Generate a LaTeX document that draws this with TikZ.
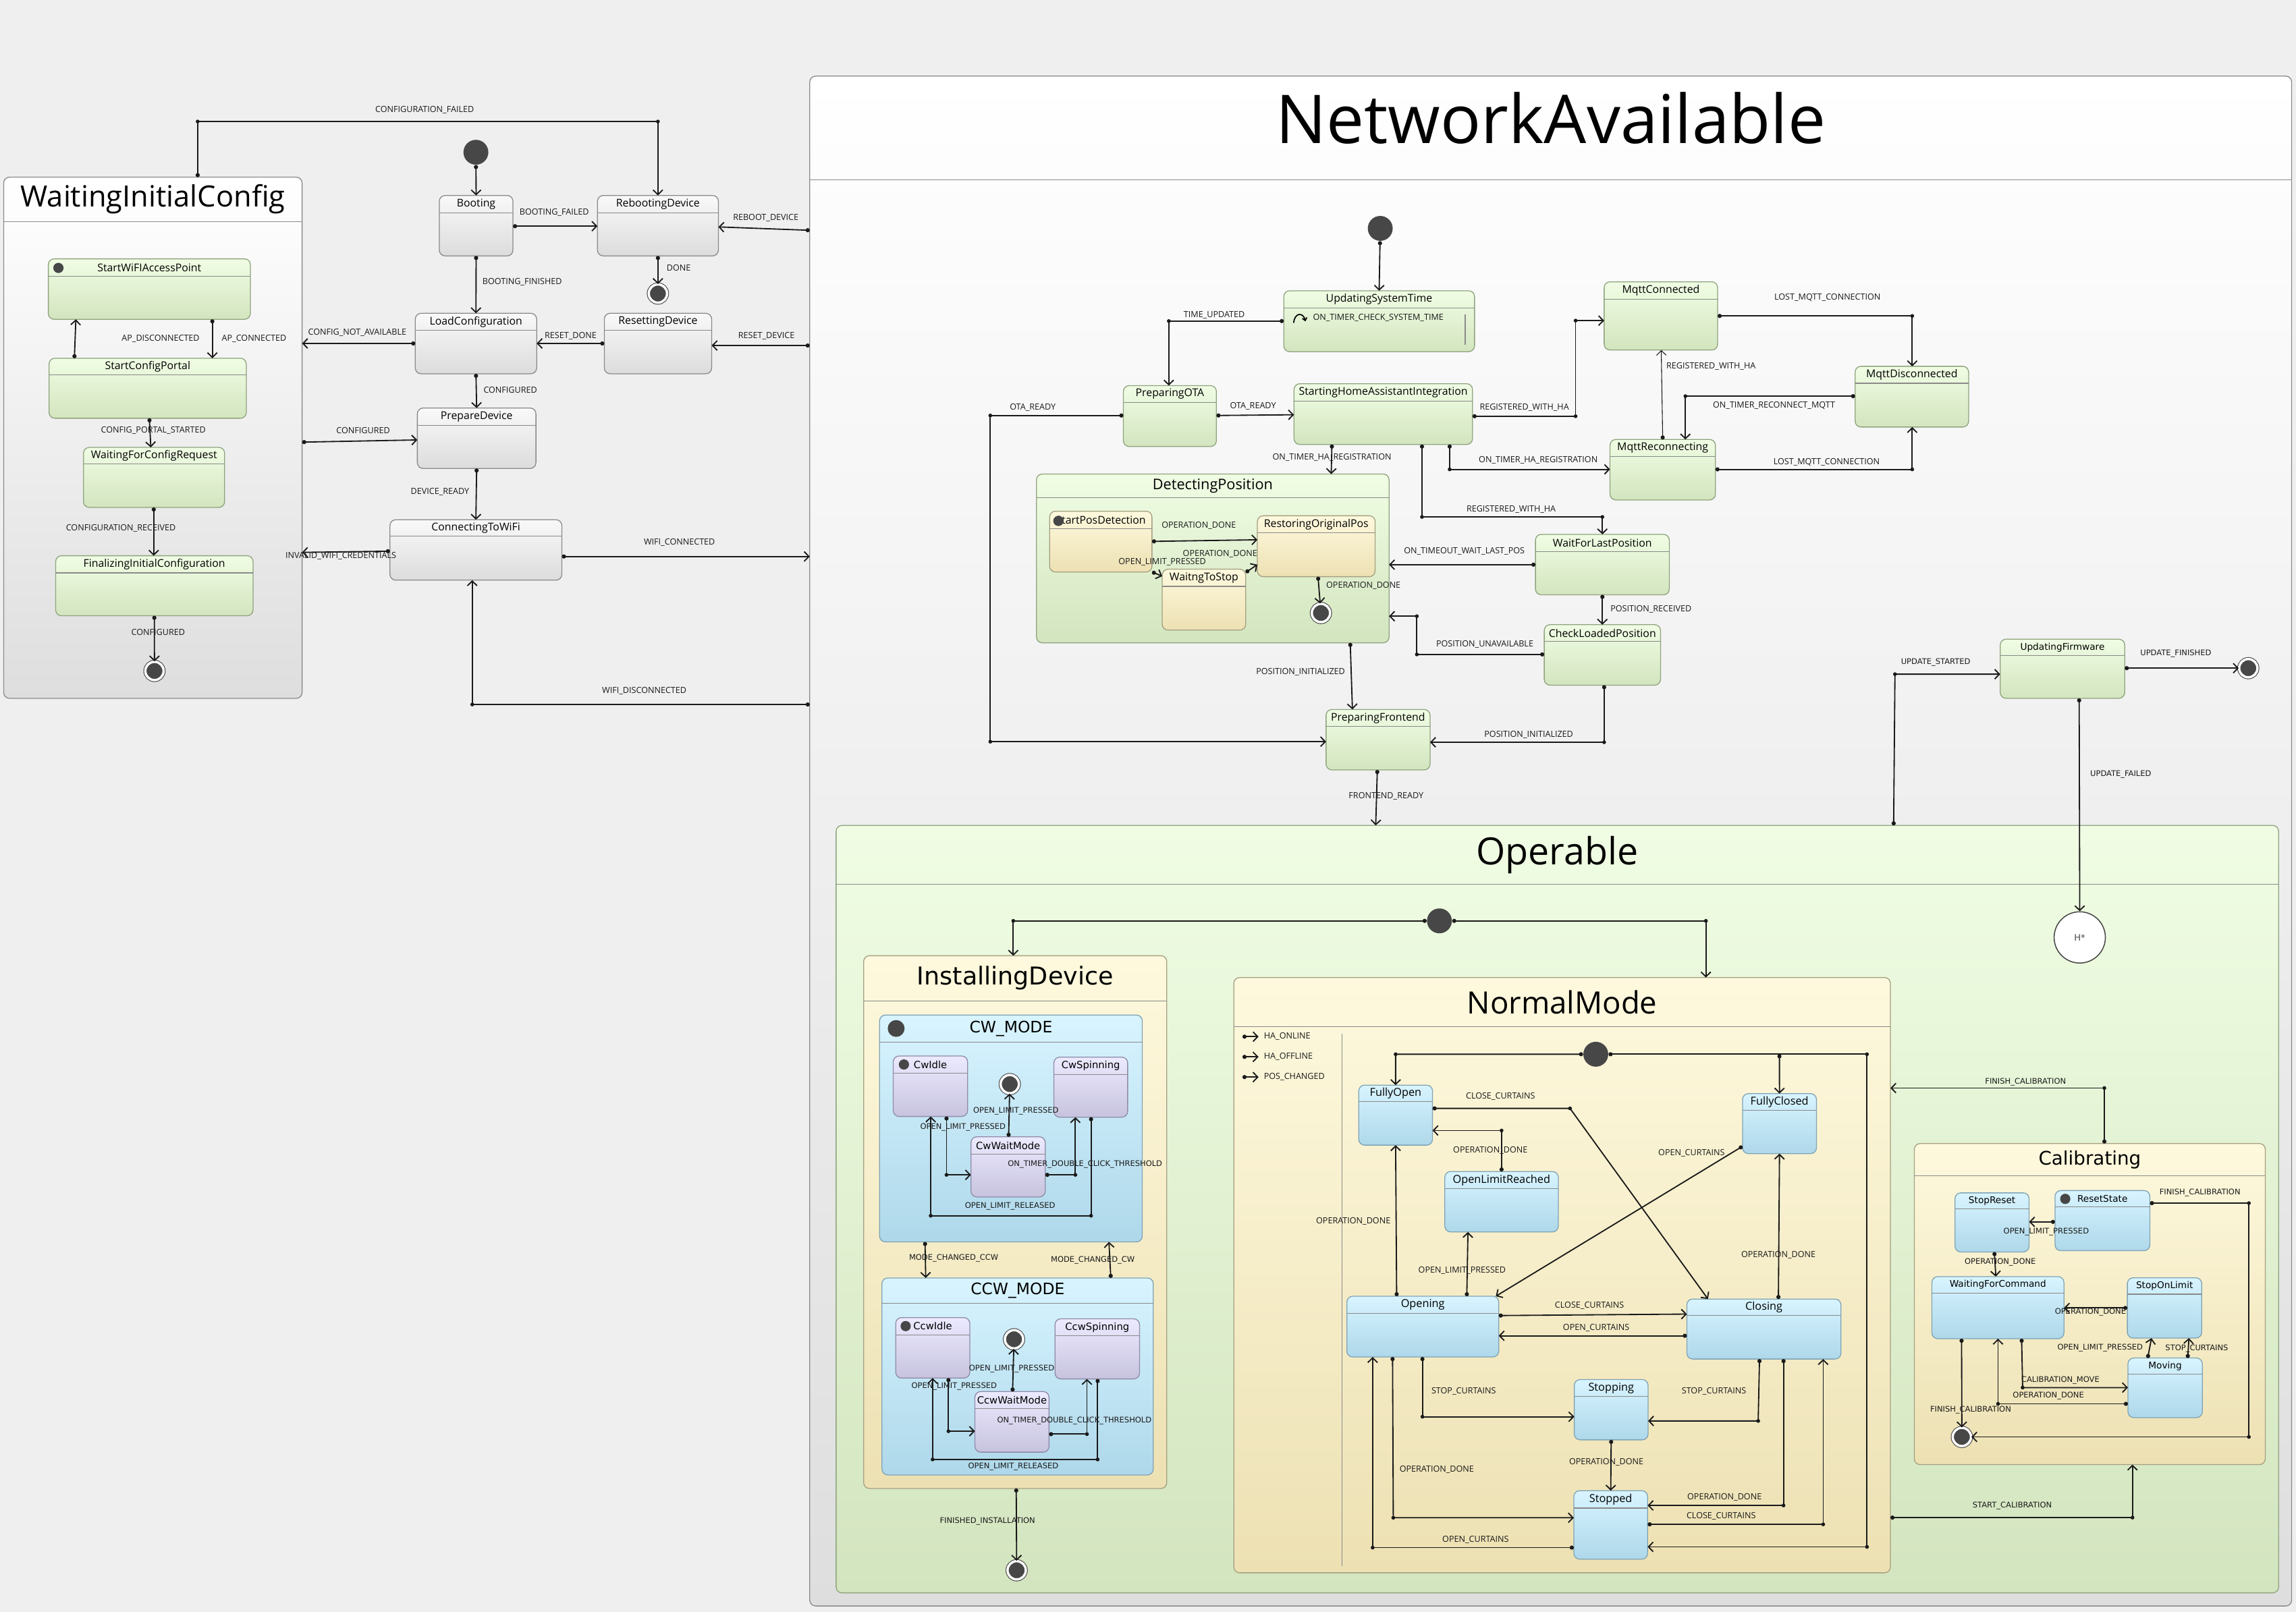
\documentclass[tikz,border=0pt]{standalone}
\usepackage{fontspec}
\setmainfont{Open Sans}
\newfontfamily\larg{DejaVu Sans}
\usetikzlibrary{arrows.meta,fit}

\definecolor{fond}{HTML}{EFEFEF}
\definecolor{noir}{HTML}{474747}
\definecolor{fil}{HTML}{1A1A1A}
\definecolor{bord}{HTML}{8A8A8A}
\definecolor{gris0}{HTML}{F9F9F9}
\definecolor{gris1}{HTML}{DCDCDC}
\definecolor{cadre1}{HTML}{DEDEDE}
\definecolor{vert0}{HTML}{F0FDE4}
\definecolor{vert1}{HTML}{D3E5BF}
\definecolor{bordvert}{HTML}{8FA37E}
\definecolor{beige0}{HTML}{FEF9DE}
\definecolor{beige1}{HTML}{EDE1B3}
\definecolor{bordbeige}{HTML}{A59F80}
\definecolor{bleu0}{HTML}{D8F4FF}
\definecolor{bleu1}{HTML}{AED8EA}
\definecolor{bordbleu}{HTML}{7FA3B5}
\definecolor{lilas0}{HTML}{ECEAFF}
\definecolor{lilas1}{HTML}{C7C3DE}
\definecolor{bordlilas}{HTML}{8F8BA8}

\tikzset{
  boite/.style={draw=bord, line width=0.6pt, rounded corners=4pt, inner sep=0pt, outer sep=0pt},
  cadre/.style={boite, top color=white, bottom color=cadre1},
  gris/.style={boite, top color=gris0, bottom color=gris1},
  vert/.style={boite, draw=bordvert, top color=vert0, bottom color=vert1},
  beige/.style={boite, draw=bordbeige, top color=beige0, bottom color=beige1},
  bleu/.style={boite, draw=bordbleu, top color=bleu0, bottom color=bleu1},
  lilas/.style={boite, draw=bordlilas, top color=lilas0, bottom color=lilas1},
  entete/.style={draw=bord, line width=0.5pt},
  tt/.style={font=\fontsize{#1}{#1}\selectfont, inner sep=0pt},
  ttl/.style={font=\larg\fontsize{#1}{#1}\selectfont, inner sep=0pt},
  tr/.style={draw=fil, line width=0.85pt, {Circle[length=2.8pt]}-{Straight Barb[length=3.2pt,width=6.6pt]}},
  coin/.style={circle, fill=fil, inner sep=0pt, minimum size=2.6pt},
  lbl/.style={font=\fontsize{5.8}{6}\selectfont, inner sep=0.5pt, text=fil},
  lbll/.style={font=\larg\fontsize{5.3}{6}\selectfont, inner sep=0.5pt, text=fil},
  init/.style={circle, fill=noir, inner sep=0pt, minimum size=17pt},
  marque/.style={circle, fill=noir, inner sep=0pt, minimum size=7pt},
  fin/.style={circle, fill=noir, draw=noir, double=white, double distance=1.6pt, line width=0.5pt, inner sep=0pt, minimum size=12.5pt},
  hist/.style={circle, draw=noir, fill=white, line width=0.7pt, minimum size=35pt, inner sep=0pt, font=\larg\fontsize{6}{6}\selectfont, text=noir},
}

% état : style, style du titre, nom, coin haut gauche, coin bas droit, hauteur d'en-tête, titre
\newcommand{\etat}[7]{%
  \node[#1, fit={(#4) (#5)}] (#3) {};
  \draw[entete] ([yshift={-#6*1pt}]#3.north west) -- ([yshift={-#6*1pt}]#3.north east);
  \node[#2] (#3-t) at ([yshift={-#6*0.5pt}]#3.north) {#7};
}

\begin{document}
\begin{tikzpicture}[x=1pt,y=-1pt]
    % Fond
    \fill[fond] (0,0) rectangle (1568,1101);
    \useasboundingbox (0,0) rectangle (1568,1101);

    % Cadres
    \etat{cadre}{tt=46, yshift=7pt}{na}{553,52}{1565,1097}{71}{NetworkAvailable}
    \etat{cadre}{tt=20}{wic}{2.5,121}{206.3,477}{30.4}{WaitingInitialConfig}

    % Configuration initiale
    \etat{vert}{tt=7.3}{startap}{33,176.8}{171,218.1}{12}{StartWiFIAccessPoint}
    \etat{vert}{tt=7.3}{portal}{33.5,244.7}{168.2,285.7}{11.4}{StartConfigPortal}
    \etat{vert}{tt=7.3}{waitreq}{57,305.6}{153.4,346.6}{11.4}{WaitingForConfigRequest}
    \etat{vert}{tt=7.3}{finalize}{38,379.6}{172.8,420.6}{11.7}{FinalizingInitialConfiguration}
    \node[marque] (startap-i) at (39.9,183) {};
    \node[fin] (f2) at (105.5,458.3) {};

    % Démarrage
    \node[init] (i0) at (325,104) {};
    \etat{gris}{tt=7.3}{boot}{300,133.5}{350.3,174.8}{11.8}{Booting}
    \etat{gris}{tt=7.3}{reboot}{408,133.5}{490.6,174.8}{11.8}{RebootingDevice}
    \node[fin] (f1) at (449.3,200.5) {};
    \etat{gris}{tt=7.3}{loadcfg}{283.6,214}{366.5,255.3}{11.7}{LoadConfiguration}
    \etat{gris}{tt=7.3}{reset}{412.7,214}{486,255.3}{11.7}{ResettingDevice}
    \etat{gris}{tt=7.3}{prep}{285,278.7}{366,320}{11.8}{PrepareDevice}
    \etat{gris}{tt=7.3}{wifi}{266.3,355}{383.7,396.3}{11.2}{ConnectingToWiFi}

    % Réseau disponible
    \node[init] (i1) at (942.6,156) {};
    \etat{vert}{tt=7.3}{ust}{876.7,198.6}{1007,240.2}{11.7}{UpdatingSystemTime}
    \etat{vert}{tt=7.3}{ota}{767.2,263.4}{830.7,305}{11.6}{PreparingOTA}
    \etat{vert}{tt=7.3}{shai}{883.7,262.1}{1005.6,303.6}{11.7}{StartingHomeAssistantIntegration}
    \etat{vert}{tt=7.3}{mqc}{1095.5,192.5}{1173,239.1}{11.9}{MqttConnected}
    \etat{vert}{tt=7.3}{mqd}{1266.9,250.2}{1344.4,291.7}{11.6}{MqttDisconnected}
    \etat{vert}{tt=7.3}{mqr}{1099.5,300.2}{1171.5,341.5}{11.7}{MqttReconnecting}
    \etat{vert}{tt=10}{detect}{707.8,323.8}{948.6,439.1}{16.1}{DetectingPosition}
    \etat{beige}{tt=7.3}{spd}{716.8,349.2}{786.7,390.7}{11.8}{StartPosDetection}
    \etat{beige}{tt=7.3}{rop}{858.7,352.3}{939.1,393.9}{11.7}{RestoringOriginalPos}
    \etat{beige}{tt=7.3}{wts}{793.7,388.8}{850.7,430.4}{11.7}{WaitngToStop}
    \node[marque] (spd-i) at (722.8,355.8) {};
    \node[fin] (f3) at (902.1,418.7) {};
    \etat{vert}{tt=7.3}{wflp}{1048.6,365}{1140,406.3}{11.7}{WaitForLastPosition}
    \etat{vert}{tt=7.3}{clp}{1054.6,426.7}{1134,468}{11.3}{CheckLoadedPosition}
    \etat{vert}{tt=7.3}{pfe}{905.6,484.6}{976.6,525.9}{11.7}{PreparingFrontend}
    \etat{vert}{ttl=6.3}{fw}{1366,436.6}{1451,477}{11.1}{UpdatingFirmware}
    \node[fin] (f4) at (1535.4,456.4) {};

    % Transition interne
    \node[lbl, anchor=west] (ust-int) at (896,216.9) {ON\_TIMER\_CHECK\_SYSTEM\_TIME};
    \draw[line width=0.8pt, -{Straight Barb[length=1.8pt,width=3.2pt]}] (883.5,220.5) .. controls (884,213.5) and (890,213) .. (891.5,219.5);
    \draw[entete] (1000.6,215) -- (1000.6,235.7);

    % Opérationnel
    \etat{vert}{tt=25.6}{oper}{571,563.8}{1556.1,1088}{40.3}{Operable}
    \node[hist] (hist) at (1420.3,640.3) {H*};
    \node[init] (i2) at (983,629) {};

    % Installation
    \etat{beige}{ttl=16.8}{install}{589.8,652.8}{796.8,1016.7}{30.8}{InstallingDevice}
    \etat{bleu}{ttl=10.8}{cw}{600.7,693.3}{780.1,848.3}{18.5}{CW\_MODE}
    \node[marque, minimum size=11.5pt] (cw-i) at (612,702.5) {};
    \etat{lilas}{ttl=6.8}{cwidle}{610,721.3}{660.8,762.6}{11.7}{CwIdle}
    \node[marque] (cwidle-i) at (617.3,727.1) {};
    \etat{lilas}{ttl=6.8}{cwspin}{719.7,722.1}{770.1,763.1}{11.7}{CwSpinning}
    \etat{lilas}{ttl=6.8}{cwwait}{663.1,776.5}{713.8,817.6}{11.8}{CwWaitMode}
    \node[fin] (f5) at (689.6,740.5) {};
    \etat{bleu}{ttl=10.8}{ccw}{602.3,872.9}{787.6,1007.5}{17.3}{CCW\_MODE}
    \etat{lilas}{ttl=6.8}{ccwidle}{611.7,900}{662.3,941.3}{11.7}{CcwIdle}
    \node[marque] (ccwidle-i) at (618.5,905.8) {};
    \etat{lilas}{ttl=6.8}{ccwspin}{720.5,900.8}{778.2,941.9}{11.7}{CcwSpinning}
    \etat{lilas}{ttl=6.8}{ccwwait}{665.8,950.5}{716.4,991.9}{11.8}{CcwWaitMode}
    \node[fin] (f6) at (692.5,914.8) {};
    \node[fin] (f7) at (694.3,1072.6) {};

    % Mode normal
    \etat{beige}{tt=21}{normal}{842.6,667.7}{1291,1074.3}{33.6}{NormalMode}
    \node[init] (i3) at (1089.8,720.1) {};
    \etat{bleu}{tt=7.5}{fo}{927.9,741.2}{978.3,782.2}{11.4}{FullyOpen}
    \etat{bleu}{tt=7.5}{fc}{1190,747}{1240.5,788}{11.4}{FullyClosed}
    \etat{bleu}{tt=7.5}{olr}{986.7,800.2}{1064.2,841.5}{11.7}{OpenLimitReached}
    \etat{bleu}{tt=7.5}{opening}{919.8,885.4}{1023.5,926.9}{11.6}{Opening}
    \etat{bleu}{tt=7.5}{closing}{1152,887.3}{1257.2,928.3}{11.3}{Closing}
    \etat{bleu}{tt=7.5}{stopping}{1075.1,942.3}{1125.5,983.5}{11.6}{Stopping}
    \etat{bleu}{tt=7.5}{stopped}{1074.8,1018.2}{1125.2,1065}{11.9}{Stopped}
    \draw[entete] (916.7,706) -- (916.7,1069.8);

    % Légende
    \node[lbl, anchor=west] (lg1) at (862.5,708.1) {HA\_ONLINE};
    \node[lbl, anchor=west] (lg2) at (862.5,721.9) {HA\_OFFLINE};
    \node[lbl, anchor=west] (lg3) at (862.5,735.7) {POS\_CHANGED};
    \draw[tr] ([xshift=-14pt]lg1.west) -- ([xshift=-3pt]lg1.west);
    \draw[tr] ([xshift=-14pt]lg2.west) -- ([xshift=-3pt]lg2.west);
    \draw[tr] ([xshift=-14pt]lg3.west) -- ([xshift=-3pt]lg3.west);

    % Calibrage
    \etat{beige}{ttl=12.8}{calib}{1307.3,781.1}{1547,1000.4}{22.2}{Calibrating}
    \etat{bleu}{ttl=6.3}{stopreset}{1335.1,814.8}{1385.7,855.2}{10.7}{StopReset}
    \etat{bleu}{ttl=6.3}{resetst}{1403.4,813.2}{1468.2,854.3}{11.1}{ResetState}
    \node[marque] (resetst-i) at (1410.4,818.9) {};
    \etat{bleu}{ttl=6.3}{wfc}{1319.3,872}{1409.5,914.4}{11.1}{WaitingForCommand}
    \etat{bleu}{ttl=6.3}{sol}{1452.8,872.8}{1503.6,914}{11.2}{StopOnLimit}
    \etat{bleu}{ttl=6.3}{moving}{1453.2,927.6}{1504,968.3}{11.1}{Moving}
    \node[fin] (f8) at (1339.8,981.5) {};

    % Transitions : démarrage
    \draw[tr] (135,0 |- wic.north) -- (135,83) node[coin]{} -- (449.3,83) node[coin]{} -- (reboot.north) node[lbl] at (290,75) {CONFIGURATION\_FAILED};
    \draw[tr] (i0) -- (boot.north);
    \draw[tr] (boot.east |- 0,154.5) -- (reboot.west |- 0,154.5) node[lbl] at (378.5,145.3) {BOOTING\_FAILED};
    \draw[tr] (na.west |- 0,157.3) -- (reboot.east |- 0,155) node[lbl] at (523,149) {REBOOT\_DEVICE};
    \draw[tr] (reboot.south) -- (f1) node[lbl] at (463.5,183) {DONE};
    \draw[tr] (boot.south) -- (loadcfg.north) node[lbl] at (356.6,192.7) {BOOTING\_FINISHED};
    \draw[tr] (reset.west |- 0,234.6) -- (loadcfg.east |- 0,234.6) node[lbl] at (389.7,229.3) {RESET\_DONE};
    \draw[tr] (na.west |- 0,236) -- (reset.east |- 0,236) node[lbl] at (523.4,229.3) {RESET\_DEVICE};
    \draw[tr] (loadcfg.west |- 0,234.6) -- (wic.east |- 0,234.6) node[lbl] at (244,227.4) {CONFIG\_NOT\_AVAILABLE};
    \draw[tr] (loadcfg.south) -- (prep.north) node[lbl] at (348.5,266.2) {CONFIGURED};
    \draw[tr] (wic.east |- 0,302) -- (prep.west |- 0,300.5) node[lbl] at (248,294.1) {CONFIGURED};
    \draw[tr] (prep.south) -- (wifi.north) node[lbl] at (300.5,336) {DEVICE\_READY};
    \draw[tr] (wifi.west |- 0,376.5) -- (wic.east |- 0,377.3) node[lbl] at (232.8,379.9) {INVALID\_WIFI\_CREDENTIALS};
    \draw[tr] (wifi.east |- 0,380.1) -- (na.west |- 0,380.1) node[lbl] at (464,370.4) {WIFI\_CONNECTED};
    \draw[tr] (na.west |- 0,481.2) -- (322.5,481.2) node[coin]{} -- (322.5,0 |- wifi.south) node[lbl] at (440,472) {WIFI\_DISCONNECTED};

    % Transitions : configuration initiale
    \draw[tr] (50.8,0 |- portal.north) -- (51.8,0 |- startap.south) node[lbl] at (109.7,231.5) {AP\_DISCONNECTED};
    \draw[tr] (145,0 |- startap.south) -- (145,0 |- portal.north) node[lbl] at (173.5,231.5) {AP\_CONNECTED};
    \draw[tr] (102,0 |- portal.south) -- (103,0 |- waitreq.north) node[lbl] at (104.7,293.8) {CONFIG\_PORTAL\_STARTED};
    \draw[tr] (105,0 |- waitreq.south) -- (105,0 |- finalize.north) node[lbl] at (82.5,361) {CONFIGURATION\_RECEIVED};
    \draw[tr] (finalize.south) -- (f2) node[lbl] at (108,432) {CONFIGURED};

    % Transitions : réseau
    \draw[tr] (i1) -- (ust.north);
    \draw[tr] (ust.west |- 0,219.3) -- (798.2,219.3) node[coin]{} -- (798.2,0 |- ota.north) node[lbl] at (829.2,215) {TIME\_UPDATED};
    \draw[tr] (ota.east |- 0,283.8) -- (shai.west |- 0,283.3) node[lbl] at (855.7,277.2) {OTA\_READY};
    \draw[tr] (ota.west |- 0,283.8) -- (676.3,283.8) node[coin]{} -- (676.3,506.6) node[coin]{} -- (pfe.west |- 0,506.6) node[lbl] at (705.3,278.5) {OTA\_READY};
    \draw[tr] (shai.east |- 0,284.3) -- (1076,284.3) node[coin]{} -- (1076,219) node[coin]{} -- (mqc.west |- 0,219) node[lbl] at (1041,278.5) {REGISTERED\_WITH\_HA};
    \draw[tr] (mqc.east |- 0,215.8) -- (1305.9,215.8) node[coin]{} -- (1305.9,0 |- mqd.north) node[lbl] at (1248,203.4) {LOST\_MQTT\_CONNECTION};
    \draw[tr] (mqd.west |- 0,270.6) -- (1151,270.6) node[coin]{} -- (1151,0 |- mqr.north) node[lbl] at (1211.5,277) {ON\_TIMER\_RECONNECT\_MQTT};
    \draw[tr, line width=0.5pt] (1135.5,0 |- mqr.north) -- (1134.5,0 |- mqc.south) node[lbl] at (1168.5,250.2) {REGISTERED\_WITH\_HA};
    \draw[tr] (mqr.east |- 0,320.6) -- (1305.9,320.6) node[coin]{} -- (1305.9,0 |- mqd.south) node[lbl] at (1247.4,315.6) {LOST\_MQTT\_CONNECTION};
    \draw[tr] (990,0 |- shai.south) -- (990,320.6) node[coin]{} -- (mqr.west |- 0,320.6) node[lbl] at (1050.5,314.5) {ON\_TIMER\_HA\_REGISTRATION};
    \draw[tr] (909.6,0 |- shai.south) -- (909.1,0 |- detect.north) node[lbl] at (909.6,312.4) {ON\_TIMER\_HA\_REGISTRATION};
    \draw[tr] (971.1,0 |- shai.south) -- (971.1,353.1) node[coin]{} -- (1094.3,353.1) node[coin]{} -- (wflp.north) node[lbl] at (1032,347.8) {REGISTERED\_WITH\_HA};
    \draw[tr] (spd.east |- 0,369.8) -- (rop.west |- 0,368.7) node[lbl] at (818.7,359.2) {OPERATION\_DONE};
    \draw[tr] (spd.south east) -- (wts.west |- 0,393.6) node[lbl] at (793.7,384.1) {OPEN\_LIMIT\_PRESSED};
    \draw[tr] (wts.east |- 0,391) -- (rop.west |- 0,385.7) node[lbl] at (833.2,378.5) {OPERATION\_DONE};
    \draw[tr] (900.1,0 |- rop.south) -- (f3) node[lbl] at (931.1,400.2) {OPERATION\_DONE};
    \draw[tr] (wflp.west |- 0,385.7) -- (detect.east |- 0,385.7) node[lbl] at (1000,376.7) {ON\_TIMEOUT\_WAIT\_LAST\_POS};
    \draw[tr] (wflp.south) -- (clp.north) node[lbl] at (1127.5,416.1) {POSITION\_RECEIVED};
    \draw[tr] (clp.west |- 0,447) -- (967.6,447) node[coin]{} -- (967.6,420.9) node[coin]{} -- (detect.east |- 0,420.9) node[lbl] at (1014,440) {POSITION\_UNAVAILABLE};
    \draw[tr] (1095.5,0 |- clp.south) -- (1095.5,507) node[coin]{} -- (pfe.east |- 0,507) node[lbl] at (1044,501.8) {POSITION\_INITIALIZED};
    \draw[tr] (922.1,0 |- detect.south) -- (923.6,0 |- pfe.north) node[lbl] at (888.2,459) {POSITION\_INITIALIZED};
    \draw[tr] (940.6,0 |- pfe.south) -- (939.5,0 |- oper.north) node[lbl] at (946.6,543.9) {FRONTEND\_READY};
    \draw[tr] (1293.2,0 |- oper.north) -- (1294.1,460.5) node[coin]{} -- (fw.west |- 0,460.5) node[lbll] at (1321.9,452.3) {UPDATE\_STARTED};
    \draw[tr] (fw.east |- 0,456.4) -- (f4) node[lbll] at (1485.9,446.5) {UPDATE\_FINISHED};
    \draw[tr] (1419.9,0 |- fw.south) -- (hist.north) node[lbll] at (1448.3,528.8) {UPDATE\_FAILED};

    % Transitions : opérationnel
    \draw[tr] (i2.west) -- (692,629) node[coin]{} -- (692,0 |- install.north);
    \draw[tr] (i2.east) -- (1165,629) node[coin]{} -- (1165,0 |- normal.north);
    \draw[tr] (1437.1,0 |- calib.north) -- (1437.1,743.2) node[coin]{} -- (normal.east |- 0,743.2) node[lbll] at (1383.3,739.1) {FINISH\_CALIBRATION};
    \draw[tr] (normal.east |- 0,1036.6) -- (1456.3,1036.6) node[coin]{} -- (1456.3,0 |- calib.south) node[lbll] at (1374.2,1028.4) {START\_CALIBRATION};

    % Transitions : installation
    \draw[tr] (631.7,0 |- cw.south) -- (632.2,0 |- ccw.north) node[lbll] at (651.3,859.2) {MODE\_CHANGED\_CCW};
    \draw[tr] (758.6,0 |- ccw.north) -- (757.3,0 |- cw.south) node[lbll] at (746.3,860.9) {MODE\_CHANGED\_CW};
    \draw[tr] (694,0 |- install.south) -- (f7) node[lbll] at (674.4,1039) {FINISHED\_INSTALLATION};
    \draw[tr] (688.8,0 |- cwwait.north) -- (f5) node[lbll] at (693.8,759) {OPEN\_LIMIT\_PRESSED};
    \draw[tr] (646.4,0 |- cwidle.south) -- (646.4,802.5) node[coin]{} -- (cwwait.west |- 0,802.5) node[lbll] at (657.6,770.1) {OPEN\_LIMIT\_PRESSED};
    \draw[tr] (cwwait.east |- 0,802.5) -- (734.4,802.5) node[coin]{} -- (734.4,0 |- cwspin.south) node[lbll] at (741,795.5) {ON\_TIMER\_DOUBLE\_CLICK\_THRESHOLD};
    \draw[tr] (745.1,0 |- cwspin.south) -- (745.1,830.4) node[coin]{} -- (635.6,830.4) node[coin]{} -- (635.6,0 |- cwidle.south) node[lbll] at (689.8,824) {OPEN\_LIMIT\_RELEASED};
    \draw[tr] (691.5,0 |- ccwwait.north) -- (f6) node[lbll] at (690.9,934.9) {OPEN\_LIMIT\_PRESSED};
    \draw[tr] (647.7,0 |- ccwidle.south) -- (647.7,977.6) node[coin]{} -- (ccwwait.west |- 0,977.6) node[lbll] at (651.6,946.9) {OPEN\_LIMIT\_PRESSED};
    \draw[tr] (ccwwait.east |- 0,979.6) -- (742.3,979.6) node[coin]{} -- (742.3,0 |- ccwspin.south) node[lbll] at (733.7,970.6) {ON\_TIMER\_DOUBLE\_CLICK\_THRESHOLD};
    \draw[tr] (749.6,0 |- ccwspin.south) -- (749.6,996.9) node[coin]{} -- (636.9,996.9) node[coin]{} -- (636.9,0 |- ccwidle.south) node[lbll] at (692,1001.6) {OPEN\_LIMIT\_RELEASED};

    % Transitions : mode normal
    \coordinate (embr) at (1215.2,720.1);
    \draw[tr] (i3.west) -- (953.1,720.1) node[coin]{} -- (fo.north);
    \draw[tr] (i3.east) -- (1275,720.1) node[coin]{} -- (1275,1056.6) node[coin]{} -- (stopped.east |- 0,1056.6);
    \draw[tr] (embr) -- (fc.north);
    \draw[tr] (fo.east |- 0,757.1) -- (1072.2,757.1) node[coin]{} -- (1166.4,0 |- closing.north) node[lbl] at (1024.7,748.9) {CLOSE\_CURTAINS};
    \draw[tr] (olr.north) -- (1025.45,772.2) node[coin]{} -- (fo.east |- 0,772.2) node[lbl] at (1017.8,785.9) {OPERATION\_DONE};
    \draw[tr] (fc.west |- 0,783) -- (1021.5,0 |- opening.north) node[lbl] at (1155.2,787.5) {OPEN\_CURTAINS};
    \draw[tr] (953.8,0 |- opening.north) -- (fo.south) node[lbl] at (924.2,834) {OPERATION\_DONE};
    \draw[tr] (1001.7,0 |- opening.north) -- (1002.5,0 |- olr.south) node[lbl] at (998.5,868) {OPEN\_LIMIT\_PRESSED};
    \draw[tr] (1214.5,0 |- closing.north) -- (fc.south) node[lbl] at (1214.5,857.4) {OPERATION\_DONE};
    \draw[tr] (opening.east |- 0,898.6) -- (closing.west |- 0,897.6) node[lbl] at (1085.5,891.8) {CLOSE\_CURTAINS};
    \draw[tr] (closing.west |- 0,912.4) -- (opening.east |- 0,912.4) node[lbl] at (1090.1,907.1) {OPEN\_CURTAINS};
    \draw[tr] (971.4,0 |- opening.south) -- (971.4,967.7) node[coin]{} -- (stopping.west |- 0,967.7) node[lbl] at (999.6,950.5) {STOP\_CURTAINS};
    \draw[tr] (1201.6,0 |- closing.south) -- (1200.7,970.6) node[coin]{} -- (stopping.east |- 0,970.6) node[lbl] at (1170.5,950.5) {STOP\_CURTAINS};
    \draw[tr] (stopping.south) -- (stopped.north) node[lbl] at (1097,998.9) {OPERATION\_DONE};
    \draw[tr] (951,0 |- opening.south) -- (951.5,1036.7) node[coin]{} -- (stopped.west |- 0,1036.7) node[lbl] at (981.2,1003.9) {OPERATION\_DONE};
    \draw[tr] (stopped.west |- 0,1057.1) -- (937.4,1057.1) node[coin]{} -- (937.4,0 |- opening.south) node[lbl] at (1007.7,1051.6) {OPEN\_CURTAINS};
    \draw[tr] (1218,0 |- closing.south) -- (1218,1028.3) node[coin]{} -- (stopped.east |- 0,1028.3) node[lbl] at (1177.7,1022.7) {OPERATION\_DONE};
    \draw[tr] (stopped.east |- 0,1041.2) -- (1245.1,1041.2) node[coin]{} -- (1245.1,0 |- closing.south) node[lbl] at (1175.4,1035.4) {CLOSE\_CURTAINS};

    % Transitions : calibrage
    \draw[tr] (resetst.west |- 0,834.6) -- (stopreset.east |- 0,834.6) node[lbll] at (1397.4,841.2) {OPEN\_LIMIT\_PRESSED};
    \draw[tr] (resetst.east |- 0,821.8) -- (1535.8,821.8) node[coin]{} -- (1535.8,981.5) node[coin]{} -- (f8) node[lbll] at (1502.4,814.8) {FINISH\_CALIBRATION};
    \draw[tr] (1362,0 |- stopreset.south) -- (1363,0 |- wfc.north) node[lbll] at (1366,862.1) {OPERATION\_DONE};
    \draw[tr] (sol.west |- 0,893.4) -- (wfc.east |- 0,893.4) node[lbll] at (1427.6,896.3) {OPERATION\_DONE};
    \draw[tr] (1466.7,0 |- moving.north) -- (1469.3,0 |- sol.south) node[lbll] at (1434.2,920.6) {OPEN\_LIMIT\_PRESSED};
    \draw[tr] (1494,0 |- moving.north) -- (1494.9,0 |- sol.south) node[lbll] at (1500.2,921) {STOP\_CURTAINS};
    \draw[tr] (1380.6,0 |- wfc.south) -- (1381.3,947.8) node[coin]{} -- (moving.west |- 0,947.8) node[lbll] at (1407.1,942.8) {CALIBRATION\_MOVE};
    \draw[tr] (moving.west |- 0,958.9) -- (1364.5,958.9) node[coin]{} -- (1364.5,0 |- wfc.south) node[lbll] at (1398.9,953.5) {OPERATION\_DONE};
    \draw[tr] (1339.6,0 |- wfc.south) -- (f8) node[lbll] at (1345.8,963) {FINISH\_CALIBRATION};
\end{tikzpicture}
\end{document}
